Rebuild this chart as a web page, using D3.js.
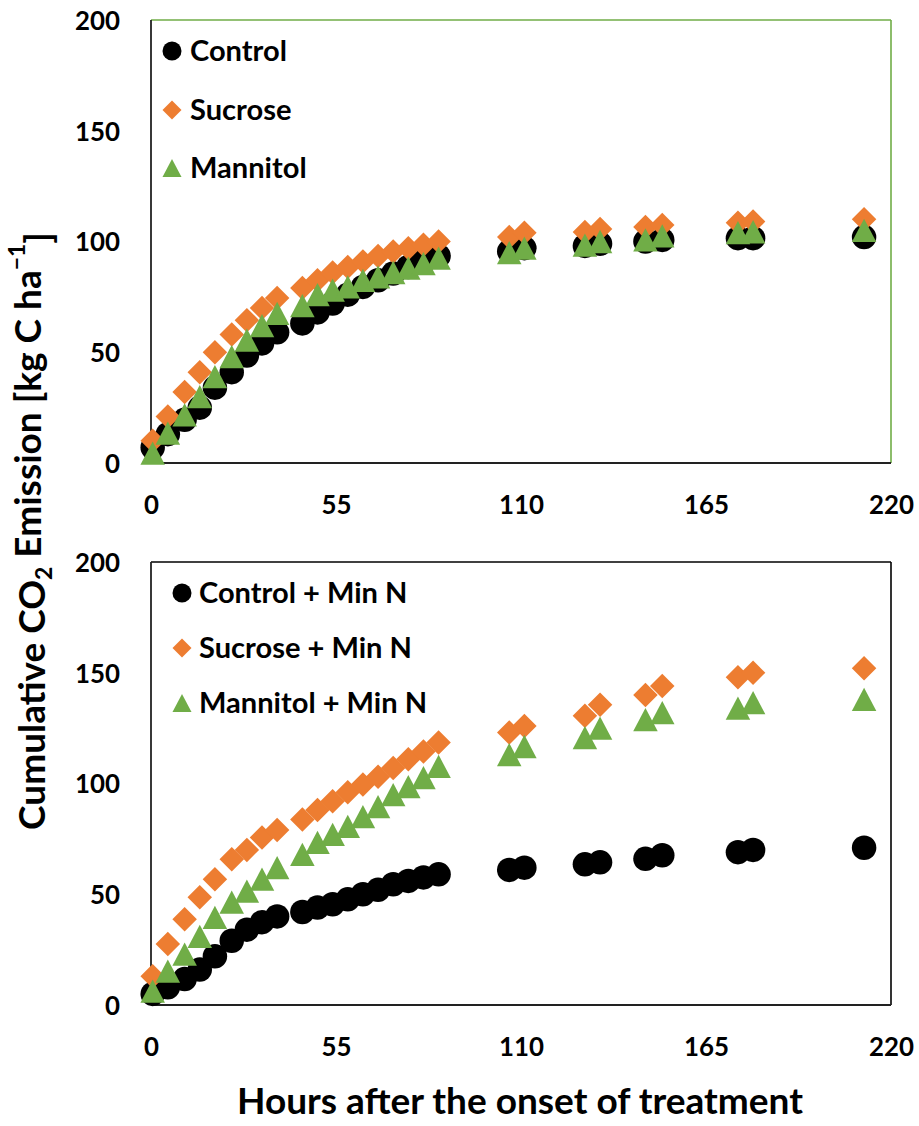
<!DOCTYPE html>
<html>
<head>
<meta charset="utf-8">
<script src="https://cdn.jsdelivr.net/npm/d3@7"></script>
<style>
  html, body { margin: 0; padding: 0; background: #fff; }
  svg { display: block; }
  text { font-family: Lato, "Open Sans", sans-serif; font-weight: bold; fill: #000; }
</style>
</head>
<body>
<svg id="chart" width="919" height="1126"></svg>
<script>
// ---------- data ----------
const hours = [0.5, 5, 10, 14.5, 19, 24, 28.5, 33, 37.5, 45, 49.5, 54, 58.5, 63, 67.5, 72, 76.5, 81, 85.5, 106.5, 111, 129, 133.5, 147, 152, 174.5, 179, 212];

const topControl  = [7, 13, 19.5, 25, 34, 41, 48.5, 54, 59, 63, 68, 72, 76, 79.5, 82.5, 85.5, 88.5, 91, 93.5, 95.5, 97, 98, 99, 100, 100.7, 101.5, 101.5, 102];
const topSucrose  = [10, 21, 32, 41, 50, 58, 64.5, 70, 74.5, 79, 82.5, 86, 88.5, 91, 93.5, 95.5, 97, 98.5, 100, 102, 104, 104.3, 105.6, 106.5, 107.5, 108.5, 109, 110];
const topMannitol = [4.5, 13.5, 21.7, 30, 39, 48, 55.5, 62, 67.5, 71, 76, 78, 79.5, 82.5, 84, 86, 88, 90, 92.5, 95, 97, 98.4, 100, 100.7, 102.5, 104, 104.4, 105];

const botControl  = [5, 8, 11.7, 16, 22, 29, 34, 37.4, 40, 42, 44, 45.5, 47.7, 50, 52, 54.5, 56, 57.6, 59, 61, 62, 63.5, 64.4, 66, 67.6, 69, 70, 71];
const botSucrose  = [13, 27.5, 38.7, 48.6, 56.8, 65.8, 70, 75.6, 79, 83.8, 88, 92, 96, 99.5, 103, 107, 111, 114.4, 118.5, 123, 126, 130.6, 135.6, 140, 144, 148, 150, 152];
const botMannitol = [6.3, 15.3, 23, 31, 39.6, 46.4, 51.4, 56.8, 62, 68, 73.4, 77, 80.6, 85, 89.6, 95, 98.6, 102.7, 107.7, 113, 116.7, 120.7, 125, 128.8, 132, 134, 136.5, 138];

const topLabels = ["Control", "Sucrose", "Mannitol"];
const botLabels = ["Control + Min N", "Sucrose + Min N", "Mannitol + Min N"];

const xTicks = [0, 55, 110, 165, 220];
const yTicks = [0, 50, 100, 150, 200];

const xTitle = "Hours after the onset of treatment";

// ---------- style ----------
const COLORS = ["#000000", "#ED7D31", "#70AD47"];
const SHAPES = ["circle", "diamond", "triangle"];

const svg = d3.select("#chart");
const L = 151, R = 891;
const panels = [
  { top: 20, bottom: 463, series: [topControl, topSucrose, topMannitol], labels: topLabels,
    frameTopRight: "#70AD47", legendX: 172, textX: 190, legendY: [51, 110, 168] },
  { top: 562, bottom: 1005, series: [botControl, botSucrose, botMannitol], labels: botLabels,
    frameTopRight: "#000000", legendX: 182, textX: 199, legendY: [593, 648, 703] }
];

function markerPath(shape, s) {
  // s = nominal size (full width)
  const h = s / 2;
  if (shape === "circle") {
    return `M${-h},0A${h},${h} 0 1,0 ${h},0A${h},${h} 0 1,0 ${-h},0Z`;
  } else if (shape === "diamond") {
    return `M0,${-h}L${h},0L0,${h}L${-h},0Z`;
  } else {
    const th = s * 0.95;
    return `M0,${-th/2}L${h},${th/2}L${-h},${th/2}Z`;
  }
}

// font sizes fit to measured widths of the reference
function fitSize(str, target, base) {
  const t = svg.append("text").attr("font-size", base).text(str);
  const w = t.node().getComputedTextLength();
  t.remove();
  return base * target / w;
}
const tickFS = fitSize("200", 45, 26);
const legendFS = fitSize("Control", 97, 26);
const titleFS = fitSize(xTitle, 566, 30);

const x = d3.scaleLinear().domain([0, 220]).range([L, R]);

panels.forEach(p => {
  const y = d3.scaleLinear().domain([0, 200]).range([p.bottom, p.top]);
  const g = svg.append("g");

  // frame
  g.append("line").attr("x1", L).attr("x2", R).attr("y1", p.top).attr("y2", p.top)
    .attr("stroke", p.frameTopRight).attr("stroke-width", 1.6);
  g.append("line").attr("x1", R).attr("x2", R).attr("y1", p.top).attr("y2", p.bottom)
    .attr("stroke", p.frameTopRight).attr("stroke-width", 1.6);
  g.append("line").attr("x1", L).attr("x2", L).attr("y1", p.top).attr("y2", p.bottom)
    .attr("stroke", "#222").attr("stroke-width", 1.8);
  g.append("line").attr("x1", L).attr("x2", R).attr("y1", p.bottom).attr("y2", p.bottom)
    .attr("stroke", "#222").attr("stroke-width", 1.8);

  // axes (labels only)
  const ya = g.append("g").attr("transform", `translate(${L},0)`)
    .call(d3.axisLeft(y).tickValues(yTicks).tickSize(0).tickPadding(31).tickFormat(d3.format("d")));
  ya.select(".domain").remove();
  ya.selectAll("text").attr("font-size", tickFS).attr("font-family", null).attr("fill", "#000")
    .attr("dy", "0.36em");

  const xa = g.append("g").attr("transform", `translate(0,${p.bottom})`)
    .call(d3.axisBottom(x).tickValues(xTicks).tickSize(0).tickPadding(0).tickFormat(d3.format("d")));
  xa.select(".domain").remove();
  xa.selectAll("text").attr("font-size", tickFS).attr("font-family", null).attr("fill", "#000")
    .attr("y", 42).attr("dy", "0.36em");

  // data
  p.series.forEach((vals, si) => {
    g.append("g").selectAll("path").data(vals).join("path")
      .attr("d", markerPath(SHAPES[si], 24.5))
      .attr("transform", (d, i) => `translate(${x(hours[i])},${y(d)})`)
      .attr("fill", COLORS[si]);
  });

  // legend
  p.labels.forEach((lab, si) => {
    g.append("path").attr("d", markerPath(SHAPES[si], 19))
      .attr("transform", `translate(${p.legendX},${p.legendY[si]})`)
      .attr("fill", COLORS[si]);
    g.append("text").attr("x", p.textX).attr("y", p.legendY[si]).attr("dy", "0.36em")
      .attr("font-size", legendFS).text(lab);
  });
});

// x title
svg.append("text").attr("x", 520).attr("y", 1114).attr("text-anchor", "middle")
  .attr("font-size", titleFS).text(xTitle);

// y title
const yt = svg.append("text").attr("transform", "translate(32,531) rotate(-90)")
  .attr("text-anchor", "middle").attr("dy", "0.36em").attr("font-size", titleFS);
yt.append("tspan").text("Cumulative CO");
yt.append("tspan").attr("font-size", titleFS * 0.62).attr("dy", "0.3em").text("2");
yt.append("tspan").attr("dy", "-0.3em").text("\u00A0Emission [kg C ha");
yt.append("tspan").attr("font-size", titleFS * 0.62).attr("dy", "-0.7em").text("\u22121");
yt.append("tspan").attr("dy", "0.7em").text("]");
</script>
</body>
</html>
